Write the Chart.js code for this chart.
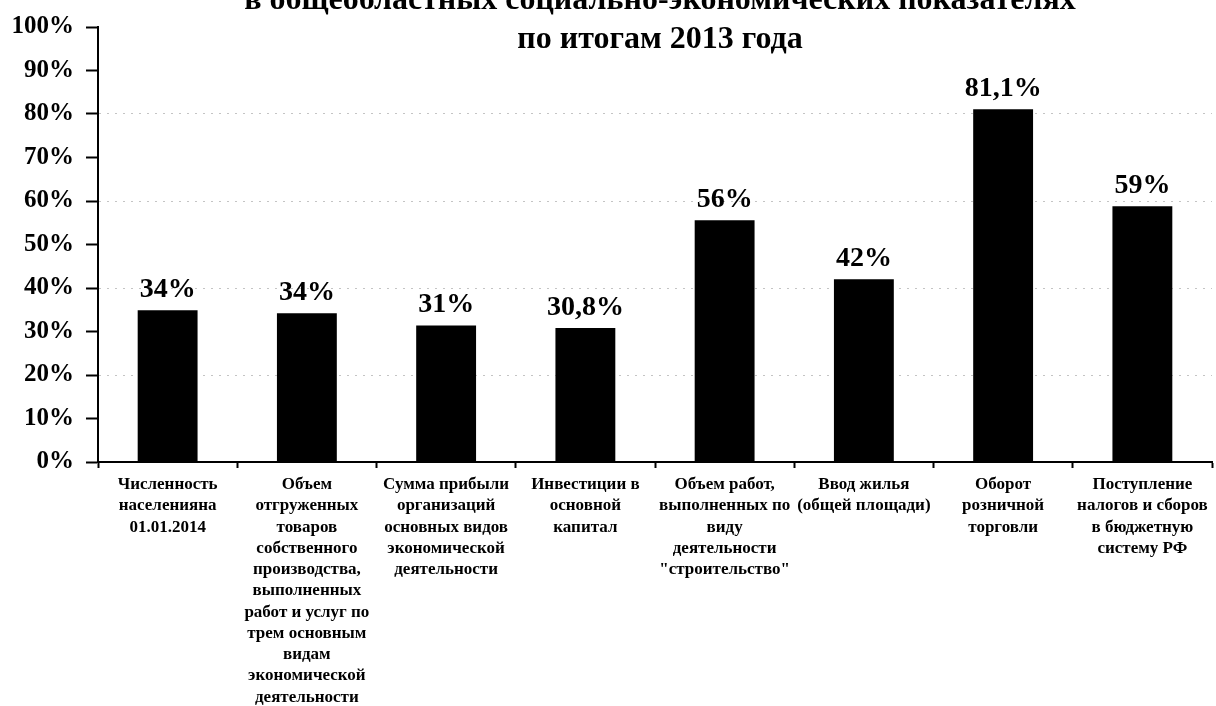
<!DOCTYPE html>
<html>
<head>
<meta charset="utf-8">
<script src="https://cdn.jsdelivr.net/npm/chart.js@4"></script>
<style>
  html, body { margin: 0; padding: 0; background: #fff; }
  #wrap { width: 1216px; height: 706px; position: relative; }
</style>
</head>
<body>
<div id="wrap"><canvas id="shareChart"></canvas></div>
<script>
// ===== Data =====
const categories = [
  ['Численность', 'населенияна', '01.01.2014'],
  ['Объем', 'отгруженных', 'товаров', 'собственного', 'производства,', 'выполненных',
   'работ и услуг по', 'трем основным', 'видам', 'экономической', 'деятельности'],
  ['Сумма прибыли', 'организаций', 'основных видов', 'экономической', 'деятельности'],
  ['Инвестиции в', 'основной', 'капитал'],
  ['Объем работ,', 'выполненных по', 'виду', 'деятельности', '"строительство"'],
  ['Ввод жилья', '(общей площади)'],
  ['Оборот', 'розничной', 'торговли'],
  ['Поступление', 'налогов и сборов', 'в бюджетную', 'систему РФ']
];
const shareValues = [34.9, 34.2, 31.4, 30.8, 55.6, 42, 81.1, 58.8];
const valueLabels = ['34%', '34%', '31%', '30,8%', '56%', '42%', '81,1%', '59%'];
const titleLines = ['в общеобластных социально-экономических показателях', 'по итогам 2013 года'];

const serif = '"Liberation Serif", "Times New Roman", serif';

// ===== Plugins =====
// title is drawn by hand, the first line is cut off at the top edge like in the scan
const titlePlugin = {
  id: 'titleLines',
  afterDraw(chart) {
    const ctx = chart.ctx;
    ctx.save();
    ctx.fillStyle = '#000';
    ctx.font = 'bold 32px ' + serif;
    ctx.textAlign = 'center';
    ctx.textBaseline = 'middle';
    ctx.fillText(titleLines[0], 660, 1);
    ctx.fillText(titleLines[1], 660, 40);
    ctx.restore();
  }
};

// value labels above the bars
const valueLabelPlugin = {
  id: 'valueLabels',
  afterDatasetsDraw(chart) {
    const ctx = chart.ctx;
    const meta = chart.getDatasetMeta(0);
    ctx.save();
    ctx.fillStyle = '#000';
    ctx.font = 'bold 28px ' + serif;
    ctx.textAlign = 'center';
    ctx.textBaseline = 'alphabetic';
    meta.data.forEach((bar, i) => {
      ctx.fillText(valueLabels[i], bar.x, bar.y - 13);
    });
    ctx.restore();
  }
};

// ===== Chart =====
const ctx = document.getElementById('shareChart').getContext('2d');

new Chart(ctx, {
  type: 'bar',
  data: {
    labels: categories,
    datasets: [{
      data: shareValues,
      backgroundColor: '#000',
      borderWidth: 0,
      categoryPercentage: 1,
      barPercentage: 0.43
    }]
  },
  options: {
    responsive: true,
    maintainAspectRatio: false,
    animation: false,
    layout: { padding: { top: 24, right: 4, left: 0, bottom: 0 } },
    plugins: {
      legend: { display: false },
      tooltip: { enabled: false }
    },
    scales: {
      y: {
        min: 0,
        max: 100,
        afterFit: (scale) => { scale.width = 98; },
        ticks: {
          stepSize: 10,
          color: '#000',
          padding: 12,
          font: { family: serif, size: 25, weight: 'bold' },
          callback: (v) => v + '%'
        },
        grid: {
          color: (c) => (c.tick && c.tick.value % 20 === 0 && c.tick.value > 0 && c.tick.value < 100) ? '#c4c4c4' : 'rgba(0,0,0,0)',
          tickColor: '#000',
          tickLength: 12,
          lineWidth: 1,
          tickWidth: 2
        },
        border: { display: true, color: '#000', width: 2, dash: [2, 6] }
      },
      x: {
        afterFit: (scale) => { scale.height = 244; },
        ticks: {
          color: '#000',
          padding: 6,
          autoSkip: false,
          maxRotation: 0,
          minRotation: 0,
          font: { family: serif, size: 17, weight: 'bold', lineHeight: 1.25 }
        },
        grid: {
          drawOnChartArea: false,
          drawTicks: true,
          tickLength: 6,
          tickColor: '#000',
          tickWidth: 2,
          offset: true
        },
        border: { display: true, color: '#000', width: 2 }
      }
    }
  },
  plugins: [titlePlugin, valueLabelPlugin]
});
</script>
</body>
</html>
